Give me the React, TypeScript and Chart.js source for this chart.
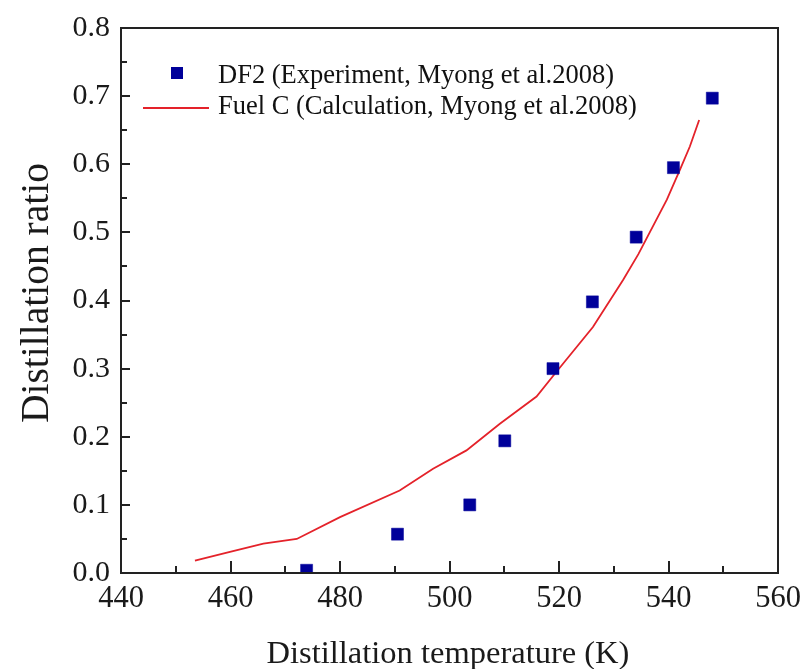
import React, { useEffect, useRef } from "react";
import { Chart, registerables } from "chart.js";

Chart.register(...registerables);

// Experimental data: DF2 (Experiment, Myong et al.2008)
const expTemps = [473.9, 490.5, 503.7, 510.1, 518.9, 526.1, 534.1, 540.9, 548.0];
const expRatios = [0.004, 0.057, 0.1, 0.194, 0.3, 0.398, 0.493, 0.595, 0.697];

// Calculated curve: Fuel C (Calculation, Myong et al.2008)
const calcTemps = [453.5, 459.9, 466.0, 472.1, 480.0, 490.9, 497.0, 503.1, 509.2, 515.9, 519.5, 526.2, 531.7, 534.5, 539.7, 542.1, 543.9, 545.6];
const calcRatios = [0.018, 0.031, 0.043, 0.05, 0.082, 0.121, 0.153, 0.18, 0.219, 0.259, 0.295, 0.361, 0.43, 0.468, 0.548, 0.592, 0.626, 0.665];

const xMajorTicks = [440, 460, 480, 500, 520, 540, 560];
const xMinorTicks = [450, 470, 490, 510, 530, 550];
const yMajorTicks = [0, 0.1, 0.2, 0.3, 0.4, 0.5, 0.6, 0.7, 0.8];
const yMinorTicks = [0.05, 0.15, 0.25, 0.35, 0.45, 0.55, 0.65, 0.75];

const seriesLabels = ["DF2 (Experiment, Myong et al.2008)", "Fuel C (Calculation, Myong et al.2008)"];
const xTitle = "Distillation temperature (K)";
const yTitle = "Distillation ratio";

const SERIF = "'Liberation Serif', 'Times New Roman', Times, serif";
const BLUE = "#00009A";
const RED = "#E4222A";
const AXIS = "#222222";
const TEXT = "#1a1a1a";

const framePlugin = {
  id: "frameAndLegend",
  afterDraw(chart: any) {
    const { ctx, chartArea: a, scales } = chart;
    const x = scales.x;
    const y = scales.y;
    ctx.save();
    ctx.strokeStyle = AXIS;
    ctx.lineWidth = 2;
    ctx.strokeRect(a.left, a.top, a.right - a.left, a.bottom - a.top);
    const drawX = (v: number, len: number) => {
      const px = Math.round(x.getPixelForValue(v));
      ctx.beginPath();
      ctx.moveTo(px, a.bottom);
      ctx.lineTo(px, a.bottom - len);
      ctx.stroke();
    };
    const drawY = (v: number, len: number) => {
      const py = Math.round(y.getPixelForValue(v));
      ctx.beginPath();
      ctx.moveTo(a.left, py);
      ctx.lineTo(a.left + len, py);
      ctx.stroke();
    };
    xMajorTicks.forEach((v) => drawX(v, 12));
    xMinorTicks.forEach((v) => drawX(v, 7));
    yMajorTicks.forEach((v) => drawY(v, 9));
    yMinorTicks.forEach((v) => drawY(v, 6));

    // legend
    const mx = 177;
    const row1 = 73;
    const row2 = 108;
    ctx.fillStyle = BLUE;
    ctx.fillRect(mx - 6, row1 - 6, 12, 12);
    ctx.strokeStyle = RED;
    ctx.lineWidth = 1.8;
    ctx.beginPath();
    ctx.moveTo(143, row2);
    ctx.lineTo(209, row2);
    ctx.stroke();
    ctx.fillStyle = "#111111";
    ctx.font = `26.5px ${SERIF}`;
    ctx.textAlign = "left";
    ctx.textBaseline = "alphabetic";
    ctx.fillText(seriesLabels[0], 218, 83);
    ctx.fillText(seriesLabels[1], 218, 114);

    // axis titles
    ctx.fillStyle = TEXT;
    ctx.textAlign = "center";
    ctx.font = `32.5px ${SERIF}`;
    ctx.fillText(xTitle, 448, 663);
    ctx.save();
    ctx.translate(48, 293);
    ctx.rotate(-Math.PI / 2);
    ctx.font = `39.5px ${SERIF}`;
    ctx.fillText(yTitle, 0, 0);
    ctx.restore();
    ctx.restore();
  },
};

export default function App() {
  const canvasRef = useRef<HTMLCanvasElement | null>(null);

  useEffect(() => {
    const canvas = canvasRef.current;
    if (!canvas) return;
    const chart = new Chart(canvas, {
      type: "scatter",
      data: {
        datasets: [
          {
            label: seriesLabels[0],
            data: expTemps.map((t, i) => ({ x: t, y: expRatios[i] })),
            showLine: false,
            pointStyle: "rect",
            pointRadius: 8.5,
            pointHoverRadius: 8.5,
            pointBackgroundColor: BLUE,
            pointBorderColor: BLUE,
            pointBorderWidth: 0.5,
            clip: 0,
            order: 0,
          } as any,
          {
            label: seriesLabels[1],
            data: calcTemps.map((t, i) => ({ x: t, y: calcRatios[i] })),
            showLine: true,
            borderColor: RED,
            borderWidth: 1.8,
            pointRadius: 0,
            pointHoverRadius: 0,
            tension: 0,
            fill: false,
            order: 1,
          } as any,
        ],
      },
      options: {
        animation: false,
        responsive: false,
        devicePixelRatio: 1,
        layout: { padding: { top: 28, right: 27, left: 0, bottom: 0 } },
        plugins: {
          legend: { display: false },
          tooltip: { enabled: false },
        },
        scales: {
          x: {
            type: "linear",
            min: 440,
            max: 560,
            afterBuildTicks: (scale: any) => {
              scale.ticks = xMajorTicks.map((v) => ({ value: v }));
            },
            afterFit: (scale: any) => {
              scale.height = 669 - 573;
              scale.paddingLeft = 0;
              scale.paddingRight = 0;
            },
            grid: { display: false, drawTicks: false },
            border: { display: false },
            ticks: {
              color: TEXT,
              font: { family: SERIF, size: 30.5 },
              padding: 8,
              maxRotation: 0,
              autoSkip: false,
            },
            title: { display: false },
          },
          y: {
            type: "linear",
            min: 0,
            max: 0.8,
            afterBuildTicks: (scale: any) => {
              scale.ticks = yMajorTicks.map((v) => ({ value: v }));
            },
            afterFit: (scale: any) => {
              scale.width = 121;
              scale.paddingTop = 0;
              scale.paddingBottom = 0;
            },
            grid: { display: false, drawTicks: false },
            border: { display: false },
            ticks: {
              color: TEXT,
              font: { family: SERIF, size: 30 },
              padding: 11,
              autoSkip: false,
              callback: (v: any) => Number(v).toFixed(1),
            },
            title: { display: false },
          },
        },
      },
      plugins: [framePlugin],
    });
    return () => chart.destroy();
  }, []);

  return (
    <div style={{ position: "fixed", left: 0, top: 0, width: 805, height: 669, background: "#ffffff" }}>
      <canvas ref={canvasRef} width={805} height={669} style={{ width: 805, height: 669, display: "block" }} />
    </div>
  );
}
